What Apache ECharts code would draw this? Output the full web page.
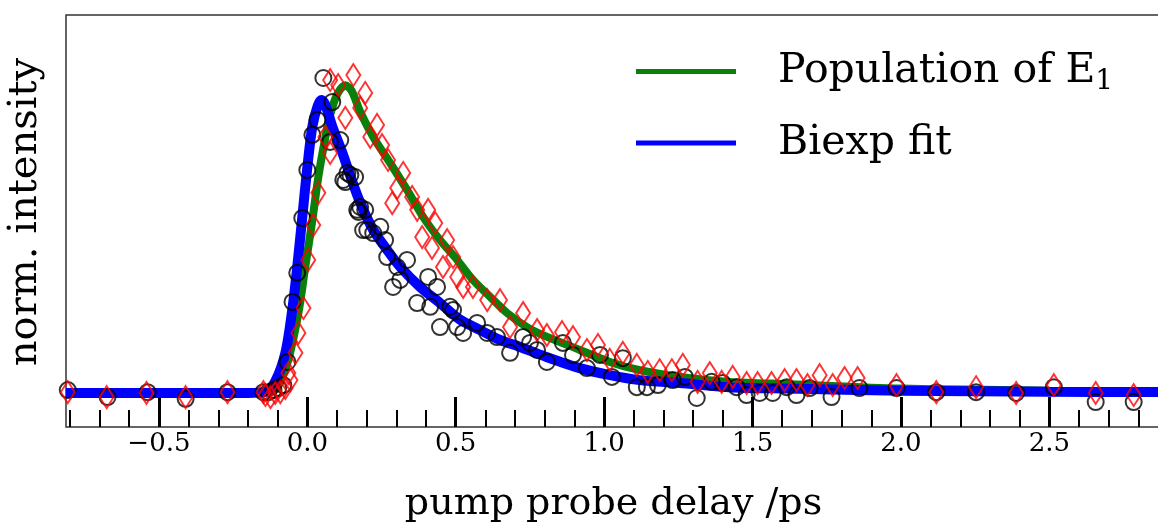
<!DOCTYPE html>
<html>
<head>
<meta charset="utf-8">
<script src="https://cdn.jsdelivr.net/npm/echarts@6/dist/echarts.min.js"></script>
<style>
    html, body { margin: 0; padding: 0; background: #fff; }
    #chart { width: 1158px; height: 526px; }
</style>
</head>
<body>
<div id="chart"></div>
<script>
// x axis range (ps) and tick positions
const xMin = -0.813;
const xMax = 2.876;
const yMin = -0.116;
const yMax = 1.29;
const majorTicks = [-0.5, 0, 0.5, 1, 1.5, 2, 2.5];
const minorTicks = [-0.8, -0.7, -0.6, -0.4, -0.3, -0.2, -0.1, 0.1, 0.2, 0.3, 0.4, 0.6, 0.7, 0.8, 0.9,
    1.1, 1.2, 1.3, 1.4, 1.6, 1.7, 1.8, 1.9, 2.1, 2.2, 2.3, 2.4, 2.6, 2.7, 2.8];

// population of E1 (green line): [delay, intensity]
const population = [
    [-0.813, 0], [-0.15, 0], [-0.11, 0.01], [-0.09, 0.04], [-0.064, 0.113], [-0.03, 0.273],
    [-0.007, 0.43], [0.017, 0.59], [0.037, 0.737], [0.061, 0.874], [0.077, 0.95], [0.101, 1.02],
    [0.128, 1.05], [0.15, 1.03], [0.178, 0.96], [0.222, 0.874], [0.279, 0.785], [0.336, 0.693],
    [0.39, 0.601], [0.447, 0.522], [0.505, 0.454], [0.558, 0.386], [0.616, 0.328], [0.673, 0.273],
    [0.74, 0.225], [0.8, 0.195], [0.918, 0.147], [1.019, 0.106], [1.12, 0.078], [1.255, 0.055],
    [1.423, 0.038], [1.625, 0.03], [2.0, 0.015], [2.5, 0.008], [2.876, 0.005]
];

// biexponential fit (blue line)
const biexpFit = [
    [-0.813, 0], [-0.2, 0], [-0.14, 0.005], [-0.108, 0.04], [-0.074, 0.137], [-0.05, 0.29],
    [-0.034, 0.43], [-0.017, 0.6], [0, 0.77], [0.017, 0.91], [0.035, 0.98], [0.048, 1.0],
    [0.06, 0.985], [0.084, 0.91], [0.118, 0.82], [0.145, 0.74], [0.178, 0.65], [0.222, 0.556],
    [0.269, 0.488], [0.313, 0.43], [0.38, 0.362], [0.447, 0.307], [0.515, 0.25], [0.582, 0.215],
    [0.649, 0.181], [0.717, 0.157], [0.8, 0.125], [0.918, 0.085], [1.02, 0.061], [1.12, 0.044],
    [1.255, 0.034], [1.42, 0.02], [1.62, 0.015], [2.0, 0.008], [2.5, 0.004], [2.876, 0.003]
];

// measured data, black circles
const circleData = [
    [-0.807, 0.01], [-0.673, -0.014], [-0.538, 0.003], [-0.41, -0.02], [-0.269, 0.003], [-0.148, 0.003],
    [-0.131, 0.003], [-0.114, 0.01], [-0.098, 0.017], [-0.081, 0.027], [-0.067, 0.106],
    [-0.05, 0.311], [-0.034, 0.41], [-0.017, 0.597], [0, 0.761], [0.017, 0.881], [0.034, 0.932],
    [0.054, 1.075], [0.084, 0.993], [0.077, 0.857], [0.111, 0.863], [0.128, 0.72], [0.145, 0.744],
    [0.161, 0.737], [0.168, 0.625], [0.188, 0.556], [0.135, 0.751], [0.121, 0.727], [0.178, 0.635],
    [0.195, 0.625], [0.172, 0.618], [0.202, 0.556], [0.222, 0.546], [0.246, 0.567], [0.262, 0.522],
    [0.269, 0.464], [0.303, 0.43], [0.336, 0.454], [0.313, 0.386], [0.289, 0.362], [0.407, 0.396],
    [0.437, 0.362], [0.37, 0.307], [0.414, 0.294], [0.481, 0.294], [0.491, 0.283], [0.447, 0.225],
    [0.505, 0.225], [0.525, 0.205], [0.572, 0.239], [0.606, 0.205], [0.639, 0.191], [0.683, 0.137],
    [0.727, 0.191], [0.774, 0.147], [0.75, 0.171], [0.807, 0.106], [0.861, 0.171], [0.895, 0.13],
    [0.942, 0.085], [0.986, 0.13], [1.026, 0.055], [1.063, 0.119], [1.11, 0.02], [1.144, 0.02],
    [1.181, 0.027], [1.231, 0.044], [1.272, 0.055], [1.312, -0.017], [1.362, 0.038], [1.399, 0.034],
    [1.446, 0.02], [1.48, -0.007], [1.524, 0], [1.568, 0], [1.615, 0.02], [1.648, -0.007],
    [1.692, 0.017], [1.766, -0.014], [1.86, 0.017], [1.985, 0.017], [2.119, 0.003], [2.253, 0.003],
    [2.388, 0], [2.515, 0.02], [2.656, -0.031], [2.784, -0.031]
];

// measured data, red diamonds
const diamondData = [
    [-0.807, 0.003], [-0.676, -0.014], [-0.542, 0], [-0.41, -0.014], [-0.269, 0.003], [-0.148, 0.003],
    [-0.141, -0.007], [-0.124, -0.014], [-0.108, 0], [-0.091, 0.003], [-0.074, 0.017], [-0.057, 0.044],
    [-0.064, 0.068], [-0.04, 0.137], [-0.03, 0.205], [-0.013, 0.29], [0.003, 0.454], [0.02, 0.573],
    [0.037, 0.683], [0.061, 0.874], [0.077, 0.819], [0.077, 1.068], [0.104, 1.051], [0.155, 1.085],
    [0.128, 0.939], [0.178, 0.973], [0.195, 1.024], [0.235, 0.915], [0.212, 0.874], [0.252, 0.846],
    [0.272, 0.795], [0.323, 0.751], [0.303, 0.7], [0.286, 0.648], [0.353, 0.669], [0.37, 0.625],
    [0.407, 0.625], [0.387, 0.532], [0.431, 0.58], [0.42, 0.495], [0.471, 0.522], [0.491, 0.464],
    [0.457, 0.43], [0.505, 0.396], [0.525, 0.362], [0.558, 0.362], [0.606, 0.317], [0.649, 0.317],
    [0.683, 0.225], [0.727, 0.273], [0.774, 0.215], [0.807, 0.198], [0.858, 0.208], [0.895, 0.191],
    [0.942, 0.147], [0.979, 0.164], [1.019, 0.113], [1.063, 0.137], [1.11, 0.096], [1.147, 0.072],
    [1.187, 0.078], [1.228, 0.078], [1.265, 0.096], [1.315, 0.038], [1.356, 0.068], [1.396, 0.038],
    [1.433, 0.055], [1.48, 0.034], [1.517, 0.034], [1.564, 0.034], [1.608, 0.044], [1.648, 0.044],
    [1.685, 0.027], [1.726, 0.061], [1.77, 0.027], [1.81, 0.051], [1.854, 0.051], [1.985, 0.027],
    [2.119, 0.003], [2.253, 0.02], [2.388, 0], [2.515, 0.027], [2.656, 0], [2.784, -0.007]
];

const serif = "'DejaVu Serif', 'Liberation Serif', serif";

let fmtTick = (v) => {
    let s = Math.abs(v).toFixed(1);
    return v < 0 ? "\u2212" + s : s;
};

let myChart = echarts.init(document.getElementById("chart"), null, { renderer: "canvas" });
let option = {
    animation: false,
    backgroundColor: "#fff",
    grid: {
        left: 66,
        top: 15,
        right: -3,
        bottom: 99,
        outerBoundsMode: "none",
        containLabel: false,
        show: true,
        borderColor: "#333",
        borderWidth: 1.5
    },
    legend: {
        orient: "vertical",
        left: 636,
        top: 51,
        padding: 0,
        itemWidth: 100,
        itemHeight: 5,
        itemGap: 27,
        icon: "rect",
        data: ["Population of E1", "Biexp fit"],
        formatter: (name) => {
            if (name === "Population of E1") return "{a|Population of E}{s|1}";
            return "{a|" + name + "}";
        },
        textStyle: {
            padding: [0, 0, 0, 37],
            rich: {
                a: { fontFamily: serif, fontSize: 41, color: "#000", lineHeight: 48 },
                s: { fontFamily: serif, fontSize: 28, color: "#000", padding: [20, 0, 0, 0] }
            }
        }
    },
    xAxis: [{
        type: "value",
        min: xMin,
        max: xMax,
        name: "pump probe delay /ps",
        nameLocation: "middle",
        nameGap: 58,
        nameTextStyle: { fontFamily: serif, fontSize: 38, color: "#000" },
        axisLine: { show: false, onZero: false },
        splitLine: { show: false },
        axisTick: {
            show: true,
            inside: true,
            length: 30,
            customValues: majorTicks,
            lineStyle: { color: "#000", width: 3 }
        },
        axisLabel: {
            show: true,
            margin: 4,
            customValues: majorTicks,
            formatter: fmtTick,
            fontFamily: serif,
            fontSize: 26,
            color: "#000"
        }
    }, {
        type: "value",
        position: "bottom",
        min: xMin,
        max: xMax,
        axisLine: { show: false, onZero: false },
        splitLine: { show: false },
        axisLabel: { show: false },
        axisTick: {
            show: true,
            inside: true,
            length: 17,
            customValues: minorTicks,
            lineStyle: { color: "#000", width: 2 }
        }
    }],
    yAxis: {
        type: "value",
        min: yMin,
        max: yMax,
        name: "norm. intensity",
        nameLocation: "middle",
        nameGap: 20,
        nameTextStyle: { fontFamily: serif, fontSize: 40, color: "#000", padding: [0, 0, 0, 18] },
        axisLine: { show: false },
        axisTick: { show: false },
        axisLabel: { show: false },
        splitLine: { show: false }
    },
    series: [{
        name: "Population of E1",
        type: "line",
        data: population,
        smooth: 0.3,
        showSymbol: false,
        color: "#0a800a",
        lineStyle: { color: "#0a800a", width: 8 },
        z: 2
    }, {
        name: "Biexp fit",
        type: "line",
        data: biexpFit,
        smooth: 0.3,
        showSymbol: false,
        color: "#0000ff",
        lineStyle: { color: "#0000ff", width: 10 },
        z: 3
    }, {
        name: "data circles",
        type: "scatter",
        data: circleData,
        symbol: "circle",
        symbolSize: 16,
        itemStyle: { color: "rgba(0,0,0,0)", borderColor: "#000", borderWidth: 2 },
        z: 4
    }, {
        name: "data diamonds",
        type: "scatter",
        data: diamondData,
        symbol: "diamond",
        symbolSize: [14, 22],
        itemStyle: { color: "rgba(0,0,0,0)", borderColor: "#ff0000", borderWidth: 2 },
        z: 5
    }]
};
myChart.setOption(option);
</script>
</body>
</html>
